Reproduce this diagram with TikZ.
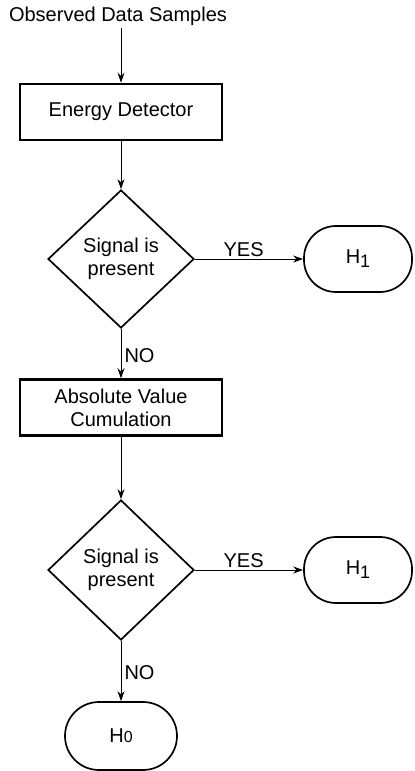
\documentclass[tikz,border=0pt]{standalone}
\usepackage{fontspec}
\setmainfont{Liberation Sans}
\usetikzlibrary{shapes.geometric, arrows.meta, positioning}

\newcommand{\hsub}[1]{H\raisebox{-0.4ex}{\small #1}}

\begin{document}
\begin{tikzpicture}[x=0.5pt, y=-0.5pt, font=\fontsize{10}{11.5}\selectfont,
  procbox/.style={draw, line width=1.3pt, minimum width=101pt, minimum height=28pt, align=center, inner sep=0pt},
  decision/.style={draw, diamond, line width=0.85pt, minimum width=73pt, minimum height=69pt, align=center, inner sep=0pt},
  terminal/.style={draw, rounded corners=16pt, line width=0.85pt, minimum width=54pt, minimum height=33pt, inner sep=0pt},
  flow/.style={-{Stealth[length=5pt, width=3.5pt]}, line width=0.5pt}]
  
  \useasboundingbox (0,0) rectangle (414,771);
  
  \node[inner sep=1pt] (obs) at (118,16) {Observed Data Samples};
  \node[procbox] (ed) at (121,112) {Energy Detector};
  \node[decision] (decone) at (121,259) {Signal is\\present};
  \node[terminal] (hone) at (358,259) {\hsub{1}};
  
  \node[procbox] (avc) at (121,407.5) {Absolute Value\\Cumulation};
  \node[decision, minimum height=70pt] (dectwo) at (121,570) {Signal is\\present};
  \node[terminal] (honeb) at (358,570) {\hsub{1}};
  \node[terminal, minimum width=56pt, minimum height=34pt, rounded corners=17pt] (hzero) at (121,736) {H{\footnotesize 0}};
  
  \draw[flow] (obs.south -| ed.north) -- (ed);
  \draw[flow] (ed) -- (decone);
  \draw[flow] (decone) -- node[above, pos=0.45, inner sep=1pt] {YES} (hone);
  \draw[flow] (decone) -- node[right, pos=0.55, inner sep=1.5pt] {NO} (avc);
  \draw[flow] (avc) -- (dectwo);
  \draw[flow] (dectwo) -- node[above, pos=0.45, inner sep=1pt] {YES} (honeb);
  \draw[flow] (dectwo) -- node[right, pos=0.52, inner sep=1.5pt] {NO} (hzero);
\end{tikzpicture}
\end{document}
